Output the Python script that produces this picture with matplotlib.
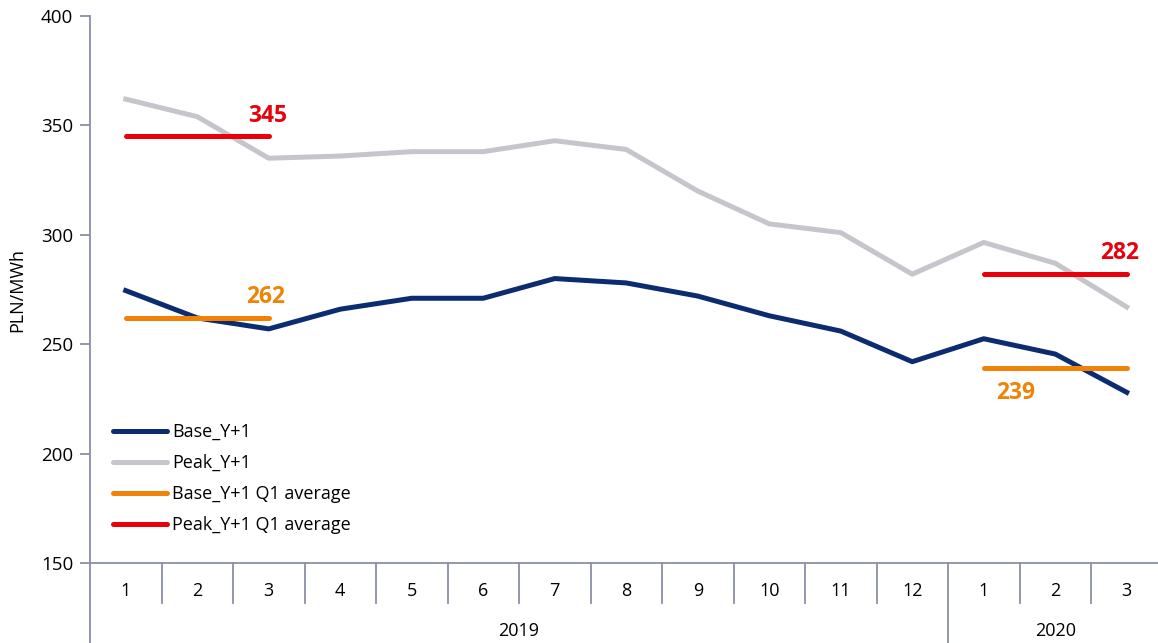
import matplotlib
matplotlib.use("Agg")
import matplotlib.pyplot as plt
from matplotlib.transforms import blended_transform_factory

plt.rcParams['font.family'] = ['Open Sans', 'DejaVu Sans']

months = ["1", "2", "3", "4", "5", "6", "7", "8", "9", "10", "11", "12", "1", "2", "3"]
years = ["2019", "2020"]
year_spans = [(0, 12), (12, 15)]

base_y1 = [274.5, 262, 257, 266, 271, 271, 280, 278, 272, 263, 256, 242, 252.5, 245.5, 228]
peak_y1 = [362, 354, 335, 336, 338, 338, 343, 339, 320, 305, 301, 282, 296.5, 287, 267]

# Q1 averages: (first index, last index, value)
base_q1_avg = [(0, 2, 262), (12, 14, 239)]
peak_q1_avg = [(0, 2, 345), (12, 14, 282)]

c_base = "#0C2C72"
c_peak = "#C5C6CB"
c_base_avg = "#F08306"
c_peak_avg = "#E8000B"
c_axis = "#8A8FA8"

W, H = 1158, 643
fig = plt.figure(figsize=(W / 100, H / 100), dpi=100)
ax_left, ax_right, ax_top, ax_bottom = 90, 1162.5, 16, 563
ax = fig.add_axes([ax_left / W, (H - ax_bottom) / H,
                   (ax_right - ax_left) / W, (ax_bottom - ax_top) / H])

x = [i + 0.5 for i in range(len(months))]
lw = 3.6
ax.plot(x, base_y1, color=c_base, lw=lw, solid_joinstyle="round", label="Base_Y+1", zorder=3)
ax.plot(x, peak_y1, color=c_peak, lw=lw, solid_joinstyle="round", label="Peak_Y+1", zorder=2)

for k, (i0, i1, v) in enumerate(base_q1_avg):
    ax.plot([x[i0], x[i1]], [v, v], color=c_base_avg, lw=lw, solid_capstyle="round",
            label="Base_Y+1 Q1 average" if k == 0 else None, zorder=4)
for k, (i0, i1, v) in enumerate(peak_q1_avg):
    ax.plot([x[i0], x[i1]], [v, v], color=c_peak_avg, lw=lw, solid_capstyle="round",
            label="Peak_Y+1 Q1 average" if k == 0 else None, zorder=4)

# value labels for the averages
lab_kw = dict(fontsize=16.5, fontweight="bold", ha="center", va="center")
ax.text(x[2] - 0.05, base_q1_avg[0][2] + 9.5, str(base_q1_avg[0][2]), color=c_base_avg, **lab_kw)
ax.text(x[2] - 0.02, peak_q1_avg[0][2] + 9.5, str(peak_q1_avg[0][2]), color=c_peak_avg, **lab_kw)
ax.text(x[12] + 0.45, base_q1_avg[1][2] - 11.5, str(base_q1_avg[1][2]), color=c_base_avg, **lab_kw)
ax.text(x[14] - 0.1, peak_q1_avg[1][2] + 9.5, str(peak_q1_avg[1][2]), color=c_peak_avg, **lab_kw)

ax.set_xlim(0, len(months))
ax.set_ylim(150, 400)
ax.set_yticks([150, 200, 250, 300, 350, 400])
ax.tick_params(axis="y", colors=c_axis, labelcolor="black", labelsize=13.5, length=7, width=1.3, pad=5)
ax.set_xticks([])
ax.set_ylabel("PLN/MWh", fontsize=13, labelpad=11)

for s in ["top", "right"]:
    ax.spines[s].set_visible(False)
for s in ["left", "bottom"]:
    ax.spines[s].set_color(c_axis)
    ax.spines[s].set_linewidth(1.3)

# two-level category axis below the plot
tr = blended_transform_factory(ax.transData, ax.transAxes)
ph = ax_bottom - ax_top
d1 = 40 / ph
d2 = 82 / ph
for b in range(len(months) + 1):
    depth = d2 if any(b == s0 for s0, _ in year_spans) or b == len(months) else d1
    ax.plot([b, b], [0, -depth], transform=tr, color=c_axis, lw=1.3, clip_on=False)
for i, m in enumerate(months):
    ax.text(x[i], -28 / ph, m, transform=tr, ha="center", va="center", fontsize=13)
for yr, (s0, s1) in zip(years, year_spans):
    ax.text((s0 + s1) / 2, -68 / ph, yr, transform=tr, ha="center", va="center", fontsize=13)

fs = 13
fpx = fs * 100 / 72
leg = ax.legend(loc="upper left", bbox_to_anchor=(113 / W, (H - 423) / H), bbox_transform=fig.transFigure,
                frameon=False, fontsize=fs, handlelength=54 / fpx, handletextpad=5 / fpx,
                labelspacing=(31 - fpx * 1.0) / fpx, borderpad=0, borderaxespad=0)
for h in leg.get_lines():
    h.set_solid_capstyle("round")

fig.savefig("out.png", dpi=100)
